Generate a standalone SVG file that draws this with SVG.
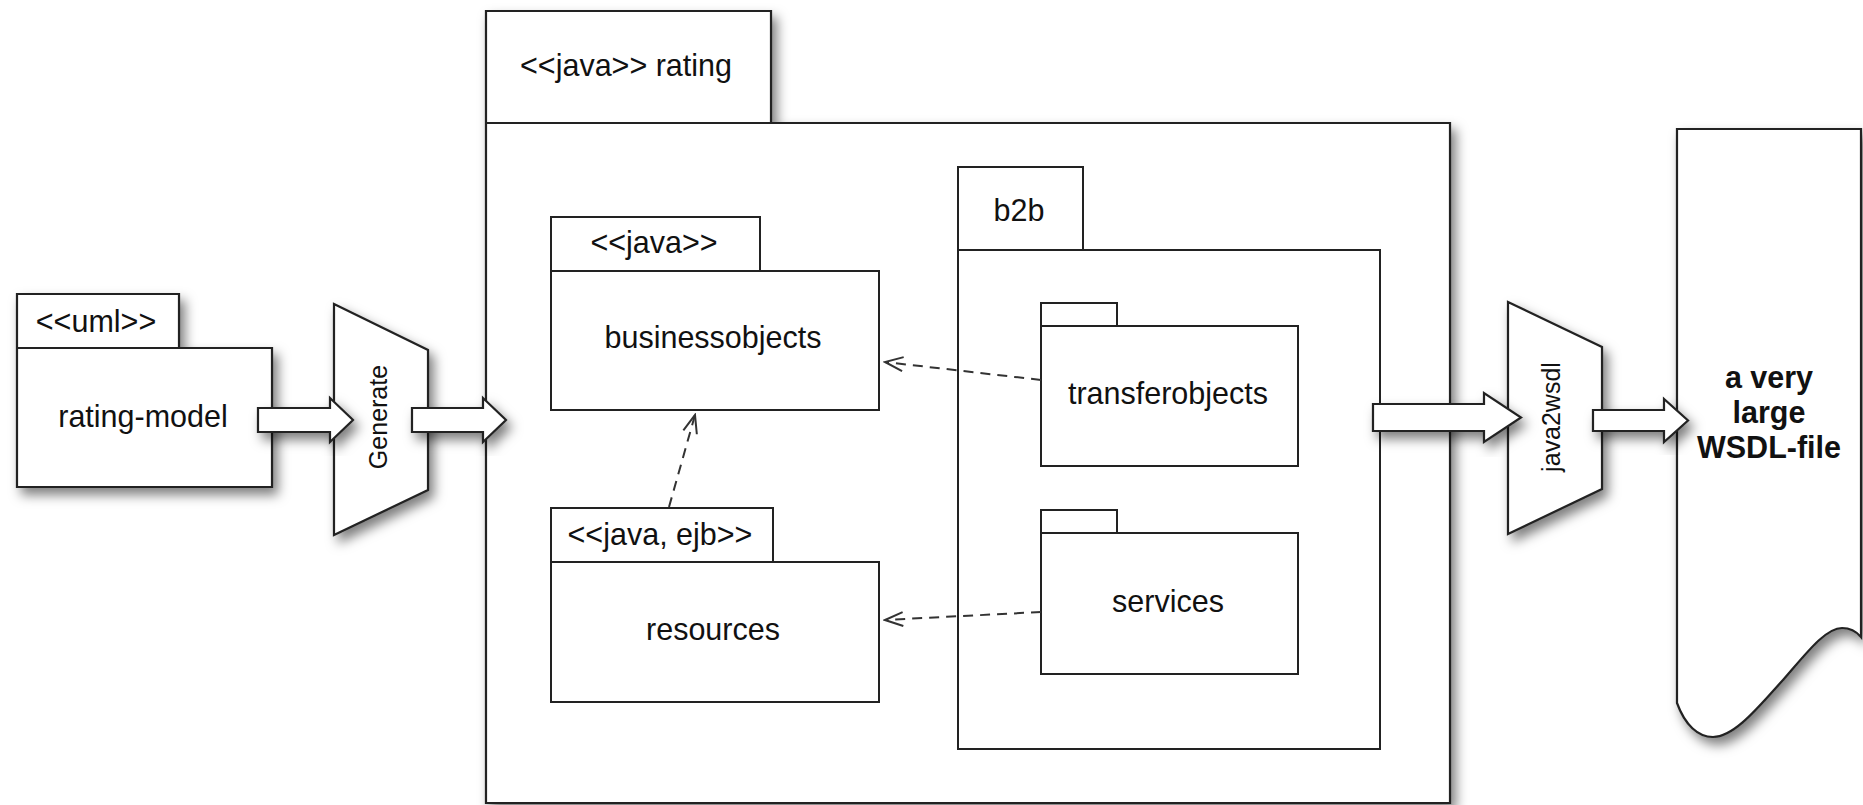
<svg xmlns="http://www.w3.org/2000/svg" width="1863" height="805" viewBox="0 0 1863 805">
  <style>
    .shape { fill: #ffffff; stroke: #222222; stroke-width: 2.2; stroke-linejoin: miter; }
    .inner { fill: #ffffff; stroke: #222222; stroke-width: 2; }
    .label { font-family: "Liberation Sans", Arial, Helvetica, sans-serif; font-size: 30.5px; fill: #111111; text-anchor: middle; }
    .small { font-size: 25px; }
    .bold { font-weight: bold; }
    .dep { fill: none; stroke: #333333; stroke-width: 2; stroke-dasharray: 10 7; marker-end: url(#open); }
    .block { fill: #ffffff; stroke: #222222; stroke-width: 2.2; stroke-linejoin: miter; }
  </style>
  <defs>
    <filter id="shadow" x="-20%" y="-20%" width="150%" height="150%">
      <feDropShadow dx="5" dy="7" stdDeviation="6" flood-color="#000000" flood-opacity="0.5"/>
    </filter>
    <marker id="open" viewBox="0 0 22 18" refX="20" refY="9" markerWidth="22" markerHeight="18" markerUnits="userSpaceOnUse" orient="auto">
      <path d="M2,2 L20,9 L2,16" fill="none" stroke="#333333" stroke-width="2"/>
    </marker>
  </defs>

  <rect width="1863" height="805" fill="#ffffff"/>

  <!-- source model package -->
  <g id="rating-model">
    <path class="shape" filter="url(#shadow)" d="M17,294 H179 V348 H272 V487 H17 Z"/>
    <line class="shape" x1="17" y1="348" x2="179" y2="348"/>
    <text class="label" x="96" y="332">&lt;&lt;uml&gt;&gt;</text>
    <text class="label" x="143" y="427">rating-model</text>
  </g>

  <!-- code generator -->
  <g id="generate">
    <path class="shape" filter="url(#shadow)" d="M334,304 L428,350 L428,490 L334,535 Z"/>
    <text class="label small" transform="translate(387,417) rotate(-90)">Generate</text>
  </g>

  <!-- main rating package -->
  <g id="rating">
    <path class="shape" filter="url(#shadow)" d="M486,11 H771 V123 H1450 V803 H486 Z"/>
    <line class="shape" x1="486" y1="123" x2="771" y2="123"/>
    <text class="label" x="626" y="76">&lt;&lt;java&gt;&gt; rating</text>
  </g>

  <g id="businessobjects">
    <path class="inner" d="M551,217 H760 V271 H879 V410 H551 Z"/>
    <line class="inner" x1="551" y1="271" x2="760" y2="271"/>
    <text class="label" x="654" y="253">&lt;&lt;java&gt;&gt;</text>
    <text class="label" x="713" y="348">businessobjects</text>
  </g>

  <g id="resources">
    <path class="inner" d="M551,508 H773 V562 H879 V702 H551 Z"/>
    <line class="inner" x1="551" y1="562" x2="773" y2="562"/>
    <text class="label" x="660" y="545">&lt;&lt;java, ejb&gt;&gt;</text>
    <text class="label" x="713" y="640">resources</text>
  </g>

  <g id="b2b">
    <path class="inner" d="M958,167 H1083 V250 H1380 V749 H958 Z"/>
    <line class="inner" x1="958" y1="250" x2="1083" y2="250"/>
    <text class="label" x="1019" y="221">b2b</text>
  </g>

  <g id="transferobjects">
    <path class="inner" d="M1041,303 H1117 V326 H1298 V466 H1041 Z"/>
    <line class="inner" x1="1041" y1="326" x2="1117" y2="326"/>
    <text class="label" x="1168" y="404">transferobjects</text>
  </g>

  <g id="services">
    <path class="inner" d="M1041,510 H1117 V533 H1298 V674 H1041 Z"/>
    <line class="inner" x1="1041" y1="533" x2="1117" y2="533"/>
    <text class="label" x="1168" y="612">services</text>
  </g>

  <!-- WSDL generator -->
  <g id="java2wsdl">
    <path class="shape" filter="url(#shadow)" d="M1508,302 L1602,347 L1602,489 L1508,534 Z"/>
    <text class="label small" transform="translate(1560,417) rotate(-90)">java2wsdl</text>
  </g>

  <!-- output document -->
  <g id="wsdl-file">
    <path class="shape" filter="url(#shadow)" d="M1677,129 H1861 V637 C1856,631 1850,628 1842,628 C1825,628 1805,655 1783,680 C1760,705 1735,737 1713,737 C1698,737 1685,725 1677,703 Z"/>
    <text class="label bold" x="1769" y="388">a very</text>
    <text class="label bold" x="1769" y="423">large</text>
    <text class="label bold" x="1769" y="458">WSDL-file</text>
  </g>

  <!-- connectors -->
  <g id="connectors">
    <path class="dep" d="M1041,380 L885,362"/>
    <path class="dep" d="M1041,612 L885,620"/>
    <path class="dep" d="M669,507 L695,415"/>
    <path class="block" filter="url(#shadow)" d="M258,408 H330 V398 L353,420 L330,442 V432 H258 Z"/>
    <path class="block" filter="url(#shadow)" d="M412,408 H483 V398 L506,420 L483,442 V432 H412 Z"/>
    <path class="block" filter="url(#shadow)" d="M1373,404 H1484 V393 L1521,417.5 L1484,442 V431 H1373 Z"/>
    <path class="block" filter="url(#shadow)" d="M1593,410 H1664 V399 L1688,420.5 L1664,442 V431 H1593 Z"/>
  </g>
</svg>
